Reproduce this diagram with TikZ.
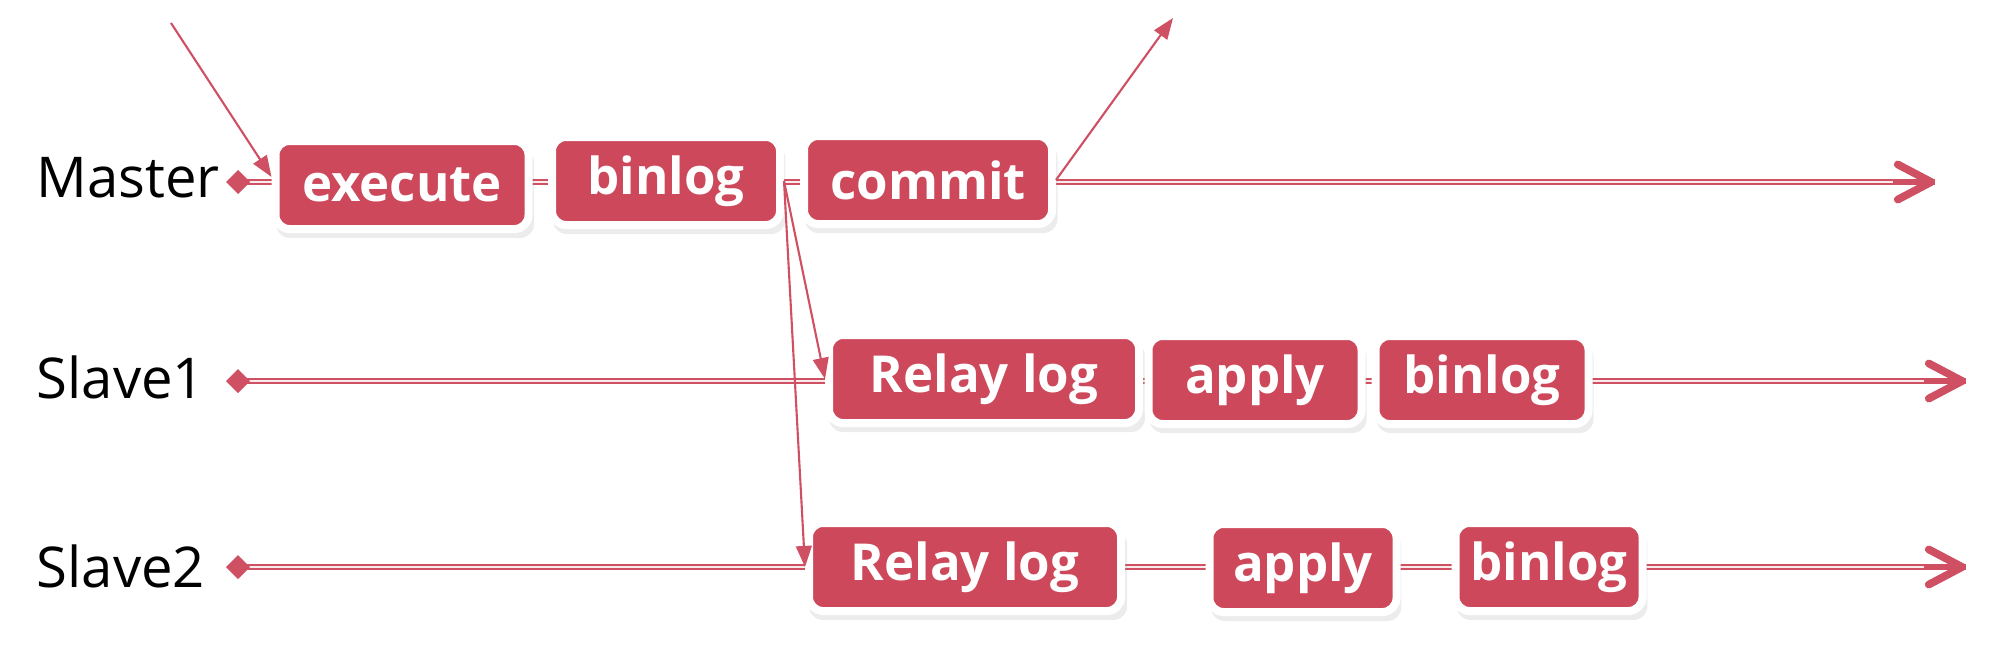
\documentclass[tikz,border=0pt]{standalone}
\usepackage{fontspec}
\setmainfont{Open Sans}
\usepackage{xcolor}
\usepackage{tikz}
\usetikzlibrary{arrows.meta}
\usetikzlibrary{shadows}
\definecolor{boxred}{RGB}{204,72,90}
\definecolor{linered}{RGB}{206,80,98}
\pgfdeclarelayer{bg}
\pgfsetlayers{bg,main}

\begin{document}
\begin{tikzpicture}[x=0.1mm, y=-0.1mm,
	lane/.style={anchor=base west, inner sep=0pt, font=\fontsize{16}{19}\selectfont},
	logbox/.style={draw=white, line width=0.8mm, fill=boxred, rounded corners=1.4mm, text=white, inner sep=0pt, minimum height=8.8mm, font=\fontsize{14.5}{17}\selectfont\bfseries, drop shadow={shadow xshift=0.3mm, shadow yshift=-0.8mm, shadow scale=1.02, opacity=0.15}},
	timeline/.style={draw=linered, line width=0.5pt, double=linered!12, double distance=0.8pt},
	laneend/.style={draw=linered, line width=1.2pt, -{Straight Barb[length=9.5pt,width=10pt,line width=2.2pt,round]}},
	event/.style={draw=linered, line width=0.6pt, -{Triangle[length=6pt,width=4.5pt]}}]
	\useasboundingbox (0,0) rectangle (2008,646);
	% lanes
	\node[lane] (master) at (36,197) {Master};
	\node[lane] (slave1) at (36,398) {Slave1};
	\node[lane] (slave2) at (36,587) {Slave2};
	\begin{pgfonlayer}{bg}
		\foreach \lane/\y/\xend in {m/182/1935, s1/381/1966, s2/567/1966}
		{
			\coordinate (\lane start) at (238,\y);
			\coordinate (\lane end) at (\xend,\y);
			\draw[timeline] (\lane start) -- (\lane end);
			\fill[linered] (\lane start) +(-12,0) -- +(0,-12) -- +(12,0) -- +(0,12) -- cycle;
			\draw[laneend] ([xshift=-12pt]\lane end) -- (\lane end);
		}
	\end{pgfonlayer}
	% log boxes
	\foreach \name/\x/\y/\w/\txt in {mexec/402/185/245/execute, mbin/666/181/220/binlog, mcommit/928/180/240/commit,
		s1relay/984/379/302/Relay log, s1apply/1255/380/205/apply, s1bin/1482/380/205/binlog,
		s2relay/965/567/304/Relay log, s2apply/1303/568/179/apply, s2bin/1549/567/179/binlog}
	{
		\node[logbox, minimum width={(\w+8)*0.1mm}] (\name) at (\x,\y) {\txt};
	}
	% events
	\coordinate (client) at (171,23);
	\coordinate (reply) at (1173,18);
	\draw[event] (client) -- ([yshift=2.3pt]mexec.west);
	\draw[event] (mcommit.east) -- (reply);
	\draw[event] (mbin.east) -- (s1relay.west);
	\draw[event] (mbin.east) -- (s2relay.west);
\end{tikzpicture}
\end{document}
